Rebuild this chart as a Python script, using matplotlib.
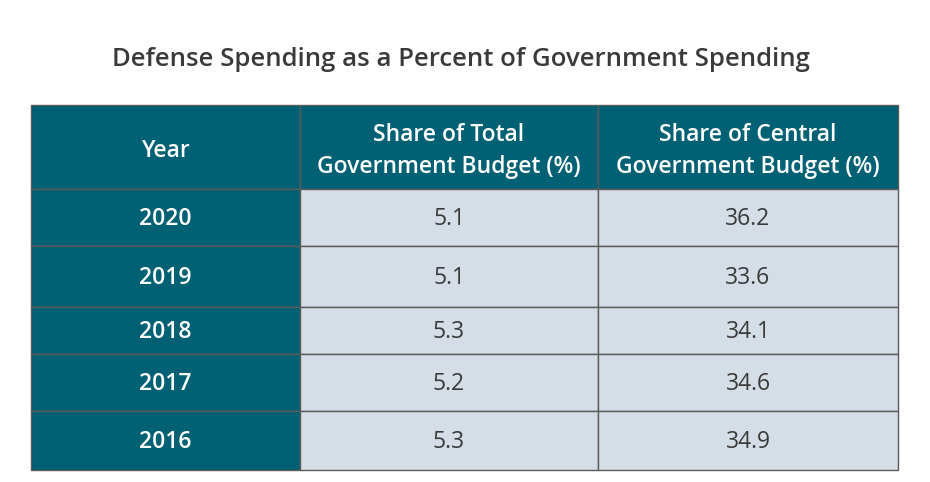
import matplotlib
matplotlib.use("Agg")
import matplotlib.pyplot as plt
from matplotlib.patches import Rectangle

title = "Defense Spending as a Percent of Government Spending"
headers = ["Year", "Share of Total\nGovernment Budget (%)", "Share of Central\nGovernment Budget (%)"]
years = ["2020", "2019", "2018", "2017", "2016"]
total_share = [5.1, 5.1, 5.3, 5.2, 5.3]
central_share = [36.2, 33.6, 34.1, 34.6, 34.9]

teal = "#006174"
light = "#d5dee6"
text_dark = "#3a3a3a"
line_col = "#5a5a5a"

plt.rcParams["font.family"] = ["Open Sans", "DejaVu Sans"]

fig = plt.figure(figsize=(9.3, 4.82), dpi=100)
ax = fig.add_axes([0, 0, 1, 1])
ax.set_xlim(0, 930)
ax.set_ylim(482, 0)
ax.axis("off")

# layout in pixels
col_x = [31, 300, 598, 898]
row_y = [105, 189, 246, 307, 354, 411, 470]

ax.text(461, 60, title, ha="center", va="center", fontsize=18.5, fontweight="semibold", color=text_dark)

# header row
for c in range(3):
    ax.add_patch(Rectangle((col_x[c], row_y[0]), col_x[c + 1] - col_x[c], row_y[1] - row_y[0],
                           facecolor=teal, edgecolor=line_col, lw=1))
    ax.text((col_x[c] + col_x[c + 1]) / 2, (row_y[0] + row_y[1]) / 2 + 4, headers[c],
            ha="center", va="center", fontsize=16.5, color="white", fontweight="semibold", linespacing=1.45)

# body rows
for r, yr in enumerate(years):
    y0, y1 = row_y[r + 1], row_y[r + 2]
    cells = [yr, f"{total_share[r]:.1f}", f"{central_share[r]:.1f}"]
    for c in range(3):
        fc = teal if c == 0 else light
        ax.add_patch(Rectangle((col_x[c], y0), col_x[c + 1] - col_x[c], y1 - y0,
                               facecolor=fc, edgecolor=line_col, lw=1))
        ax.text((col_x[c] + col_x[c + 1]) / 2, (y0 + y1) / 2 + 1.5, cells[c],
                ha="center", va="center", fontsize=16.5,
                color="white" if c == 0 else text_dark,
                fontweight="semibold" if c == 0 else "normal")

fig.savefig("out.png", dpi=100, facecolor="white")
